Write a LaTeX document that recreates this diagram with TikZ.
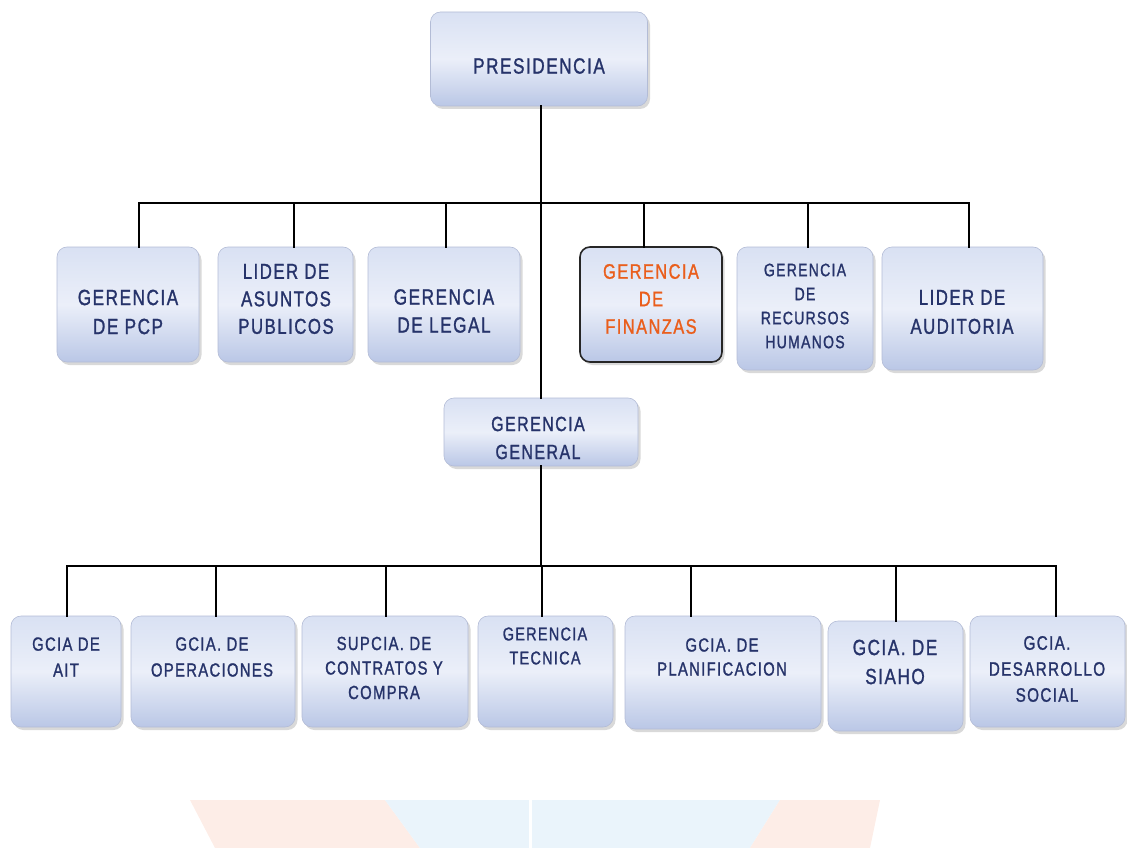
\documentclass[tikz,border=0pt]{standalone}
\usepackage{fontspec}
\setmainfont{Liberation Sans}
\newfontfamily\lsp[LetterSpace=7, FakeStretch=0.78, FakeBold=1.2]{Liberation Sans}
\usetikzlibrary{shadows}
\definecolor{navy}{HTML}{26336A}
\definecolor{orng}{HTML}{EA5E1C}
\definecolor{boxtop}{HTML}{D9E1F3}
\definecolor{boxmid}{HTML}{EBEFF9}
\definecolor{boxbot}{HTML}{BAC7E6}
\definecolor{boxline}{HTML}{B3BCD6}
\definecolor{wmpink}{HTML}{FDEDE7}
\definecolor{wmblue}{HTML}{EAF4FB}
\tikzset{
  orgbox/.style={rectangle, rounded corners=10pt, draw=boxline, line width=0.6pt,
    top color=boxtop, bottom color=boxbot, middle color=boxmid,
    drop shadow={opacity=0.3, shadow xshift=2.5pt, shadow yshift=-3pt}},
  finbox/.style={orgbox, draw=black!85, line width=1.6pt},
  lbl/.style={align=center, text=navy, inner sep=0pt, font=\lsp},
  conn/.style={draw=black, line width=2.6pt, line cap=rect}
}
\begin{document}
\begin{tikzpicture}[x=1pt, y=-1pt]
\useasboundingbox (0,0) rectangle (1127,848);
% faint watermark at the bottom
\fill[wmpink] (190,800) -- (385,800) -- (420,848) -- (215,848) -- cycle;
\fill[wmblue] (385,800) -- (780,800) -- (750,848) -- (420,848) -- cycle;
\fill[wmpink] (780,800) -- (880,800) -- (870,848) -- (750,848) -- cycle;
\draw[white, line width=3pt] (530,800) -- (530,848);

% boxes
\node[orgbox, minimum width=217pt, minimum height=94pt] (pres) at (539,59) {};
\node[orgbox, minimum width=142pt, minimum height=115pt] (pcp) at (128,304.5) {};
\node[orgbox, minimum width=135pt, minimum height=115pt] (asu) at (285.5,304.5) {};
\node[orgbox, minimum width=152pt, minimum height=115pt] (leg) at (444,304.5) {};
\node[finbox, minimum width=142pt, minimum height=115pt] (fin) at (651,304.5) {};
\node[orgbox, minimum width=136pt, minimum height=123pt] (rrhh) at (805,308.5) {};
\node[orgbox, minimum width=161pt, minimum height=123pt] (aud) at (962.5,308.5) {};
\node[orgbox, minimum width=194pt, minimum height=68pt] (gg) at (541,432) {};
\node[orgbox, minimum width=110pt, minimum height=111pt] (ait) at (66,671.5) {};
\node[orgbox, minimum width=164pt, minimum height=111pt] (ope) at (213,671.5) {};
\node[orgbox, minimum width=166pt, minimum height=111pt] (sup) at (385,671.5) {};
\node[orgbox, minimum width=135pt, minimum height=111pt] (tec) at (545.5,671.5) {};
\node[orgbox, minimum width=196pt, minimum height=113pt] (pla) at (723,672.5) {};
\node[orgbox, minimum width=135pt, minimum height=110pt] (sia) at (895.5,676) {};
\node[orgbox, minimum width=155pt, minimum height=111pt] (des) at (1047.5,671.5) {};

% labels
\node[lbl, font=\lsp\fontsize{22}{27}\selectfont] (tpres) at (539,66) {PRESIDENCIA};
\node[lbl, font=\lsp\fontsize{22}{29}\selectfont] (tpcp) at (128,312) {GERENCIA\\DE PCP};
\node[lbl, font=\lsp\fontsize{21.5}{27.5}\selectfont] (tasu) at (286,299) {LIDER DE\\ASUNTOS\\PUBLICOS};
\node[lbl, font=\lsp\fontsize{22}{28}\selectfont] (tleg) at (444,311) {GERENCIA\\DE LEGAL};
\node[lbl, text=orng, font=\lsp\fontsize{21}{27.5}\selectfont] (tfin) at (651,299) {GERENCIA\\DE\\FINANZAS};
\node[lbl, font=\lsp\fontsize{18}{24}\selectfont] (trrhh) at (805,306) {GERENCIA\\DE\\RECURSOS\\HUMANOS};
\node[lbl, font=\lsp\fontsize{21.5}{29}\selectfont] (taud) at (962,312) {LIDER DE\\AUDITORIA};
\node[lbl, font=\lsp\fontsize{20.5}{28}\selectfont] (tgg) at (538,438) {GERENCIA\\GENERAL};
\node[lbl, font=\lsp\fontsize{19}{26}\selectfont] (tait) at (66,657) {GCIA DE\\AIT};
\node[lbl, font=\lsp\fontsize{19}{26}\selectfont] (tope) at (212,657) {GCIA. DE\\OPERACIONES};
\node[lbl, font=\lsp\fontsize{19}{24.5}\selectfont] (tsup) at (384,668) {SUPCIA. DE\\CONTRATOS Y\\COMPRA};
\node[lbl, font=\lsp\fontsize{18.5}{24}\selectfont] (ttec) at (545,646) {GERENCIA\\TECNICA};
\node[lbl, font=\lsp\fontsize{19}{24}\selectfont] (tpla) at (722,657) {GCIA. DE\\PLANIFICACION};
\node[lbl, font=\lsp\fontsize{22}{29}\selectfont] (tsia) at (895,662) {GCIA. DE\\SIAHO};
\node[lbl, font=\lsp\fontsize{19.5}{26}\selectfont] (tdes) at (1047,669) {GCIA.\\DESARROLLO\\SOCIAL};

% connector points
\coordinate (b1) at (139,203);
\coordinate (b2) at (294,203);
\coordinate (b3) at (446,203);
\coordinate (b4) at (644,203);
\coordinate (b5) at (808,203);
\coordinate (b6) at (969,203);
\coordinate (c1) at (67,566);
\coordinate (c2) at (216,566);
\coordinate (c3) at (386,566);
\coordinate (c4) at (542,566);
\coordinate (c5) at (691,566);
\coordinate (c6) at (896,566);
\coordinate (c7) at (1056,566);

% connectors
\draw[conn] (pres.south -| gg.north) -- (gg.north);
\draw[conn] (b1) -- (b6);
\draw[conn] (b1) -- (b1 |- pcp.north);
\draw[conn] (b2) -- (b2 |- asu.north);
\draw[conn] (b3) -- (b3 |- leg.north);
\draw[conn] (b4) -- (b4 |- fin.north);
\draw[conn] (b5) -- (b5 |- rrhh.north);
\draw[conn] (b6) -- (b6 |- aud.north);
\draw[conn] (gg.south) -- (gg.south |- c4);
\draw[conn] (c1) -- (c7);
\draw[conn] (c1) -- (c1 |- ait.north);
\draw[conn] (c2) -- (c2 |- ope.north);
\draw[conn] (c3) -- (c3 |- sup.north);
\draw[conn] (c4) -- (c4 |- tec.north);
\draw[conn] (c5) -- (c5 |- pla.north);
\draw[conn] (c6) -- (c6 |- sia.north);
\draw[conn] (c7) -- (c7 |- des.north);
\end{tikzpicture}
\end{document}
